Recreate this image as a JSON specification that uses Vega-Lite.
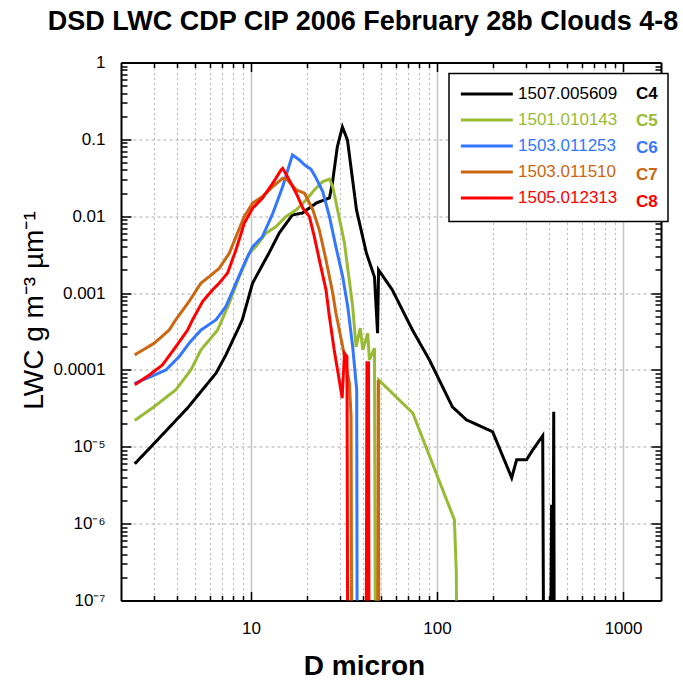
{
  "$schema": "https://vega.github.io/schema/vega-lite/v6.json",
  "width": 540,
  "height": 538,
  "autosize": "none",
  "padding": {"left": 121, "top": 62.5, "right": 22, "bottom": 81.5},
  "background": "white",
  "title": {"text": "DSD LWC CDP CIP 2006 February 28b Clouds 4-8", "font": "Liberation Sans", "fontSize": 27, "fontWeight": "bold", "color": "black", "anchor": "middle", "dx": -28, "offset": -3, "baseline": "alphabetic"},
  "config": {"view": {"stroke": null}, "font": "Liberation Sans"},
  "data": {"values": [
    {"id": "1507.005609", "c": "C4", "d": 2.37, "v": 6.0e-6},
    {"id": "1507.005609", "c": "C4", "d": 2.9, "v": 1.0e-5},
    {"id": "1507.005609", "c": "C4", "d": 4.56, "v": 3.2e-5},
    {"id": "1507.005609", "c": "C4", "d": 6.49, "v": 9.1e-5},
    {"id": "1507.005609", "c": "C4", "d": 7.33, "v": 1.57e-4},
    {"id": "1507.005609", "c": "C4", "d": 8.47, "v": 3.3e-4},
    {"id": "1507.005609", "c": "C4", "d": 8.98, "v": 4.5e-4},
    {"id": "1507.005609", "c": "C4", "d": 10.2, "v": 1.35e-3},
    {"id": "1507.005609", "c": "C4", "d": 12.5, "v": 3.33e-3},
    {"id": "1507.005609", "c": "C4", "d": 14.2, "v": 6.07e-3},
    {"id": "1507.005609", "c": "C4", "d": 16.7, "v": 0.0104},
    {"id": "1507.005609", "c": "C4", "d": 18.9, "v": 0.011},
    {"id": "1507.005609", "c": "C4", "d": 20.6, "v": 0.0128},
    {"id": "1507.005609", "c": "C4", "d": 22.5, "v": 0.0149},
    {"id": "1507.005609", "c": "C4", "d": 26.4, "v": 0.0173},
    {"id": "1507.005609", "c": "C4", "d": 27.4, "v": 0.0271},
    {"id": "1507.005609", "c": "C4", "d": 29.1, "v": 0.0797},
    {"id": "1507.005609", "c": "C4", "d": 31.0, "v": 0.145},
    {"id": "1507.005609", "c": "C4", "d": 33.0, "v": 0.098},
    {"id": "1507.005609", "c": "C4", "d": 36.9, "v": 0.0121},
    {"id": "1507.005609", "c": "C4", "d": 41.7, "v": 3.33e-3},
    {"id": "1507.005609", "c": "C4", "d": 46.1, "v": 1.62e-3},
    {"id": "1507.005609", "c": "C4", "d": 47.9, "v": 3.0e-4},
    {"id": "1507.005609", "c": "C4", "d": 48.5, "v": 2.0e-3},
    {"id": "1507.005609", "c": "C4", "d": 57.5, "v": 1.1e-3},
    {"id": "1507.005609", "c": "C4", "d": 73.8, "v": 3.3e-4},
    {"id": "1507.005609", "c": "C4", "d": 91, "v": 1.35e-4},
    {"id": "1507.005609", "c": "C4", "d": 121, "v": 3.3e-5},
    {"id": "1507.005609", "c": "C4", "d": 144, "v": 2.24e-5},
    {"id": "1507.005609", "c": "C4", "d": 199, "v": 1.57e-5},
    {"id": "1507.005609", "c": "C4", "d": 252, "v": 3.95e-6},
    {"id": "1507.005609", "c": "C4", "d": 268, "v": 6.8e-6},
    {"id": "1507.005609", "c": "C4", "d": 303, "v": 6.8e-6},
    {"id": "1507.005609", "c": "C4", "d": 327, "v": 9.1e-6},
    {"id": "1507.005609", "c": "C4", "d": 370, "v": 1.39e-5},
    {"id": "1507.005609", "c": "C4", "d": 376, "v": 1e-9},
    {"id": "1507.005609", "c": "C4", "d": 405, "v": 1e-9},
    {"id": "1507.005609", "c": "C4", "d": 413, "v": 1.76e-6},
    {"id": "1507.005609", "c": "C4", "d": 418, "v": 1e-9},
    {"id": "1507.005609", "c": "C4", "d": 424, "v": 2.85e-5},
    {"id": "1507.005609", "c": "C4", "d": 428, "v": 1e-9},
    {"id": "1501.010143", "c": "C5", "d": 2.37, "v": 2.2e-5},
    {"id": "1501.010143", "c": "C5", "d": 2.95, "v": 3.2e-5},
    {"id": "1501.010143", "c": "C5", "d": 3.94, "v": 5.5e-5},
    {"id": "1501.010143", "c": "C5", "d": 4.75, "v": 1.0e-4},
    {"id": "1501.010143", "c": "C5", "d": 5.38, "v": 1.82e-4},
    {"id": "1501.010143", "c": "C5", "d": 6.61, "v": 3.3e-4},
    {"id": "1501.010143", "c": "C5", "d": 7.64, "v": 7.4e-4},
    {"id": "1501.010143", "c": "C5", "d": 8.65, "v": 1.64e-3},
    {"id": "1501.010143", "c": "C5", "d": 9.79, "v": 3.3e-3},
    {"id": "1501.010143", "c": "C5", "d": 10.6, "v": 4.0e-3},
    {"id": "1501.010143", "c": "C5", "d": 12.0, "v": 6.0e-3},
    {"id": "1501.010143", "c": "C5", "d": 13.6, "v": 7.3e-3},
    {"id": "1501.010143", "c": "C5", "d": 15.4, "v": 9.9e-3},
    {"id": "1501.010143", "c": "C5", "d": 17.5, "v": 0.0121},
    {"id": "1501.010143", "c": "C5", "d": 19.8, "v": 0.0163},
    {"id": "1501.010143", "c": "C5", "d": 21.9, "v": 0.022},
    {"id": "1501.010143", "c": "C5", "d": 24.3, "v": 0.0282},
    {"id": "1501.010143", "c": "C5", "d": 26.4, "v": 0.0303},
    {"id": "1501.010143", "c": "C5", "d": 27.5, "v": 0.0243},
    {"id": "1501.010143", "c": "C5", "d": 29.2, "v": 0.0121},
    {"id": "1501.010143", "c": "C5", "d": 31.8, "v": 4.45e-3},
    {"id": "1501.010143", "c": "C5", "d": 35.2, "v": 6.7e-4},
    {"id": "1501.010143", "c": "C5", "d": 36.7, "v": 2.0e-4},
    {"id": "1501.010143", "c": "C5", "d": 38.7, "v": 3.5e-4},
    {"id": "1501.010143", "c": "C5", "d": 39.9, "v": 1.82e-4},
    {"id": "1501.010143", "c": "C5", "d": 42.4, "v": 3.0e-4},
    {"id": "1501.010143", "c": "C5", "d": 43.3, "v": 1.35e-4},
    {"id": "1501.010143", "c": "C5", "d": 46.1, "v": 1.92e-4},
    {"id": "1501.010143", "c": "C5", "d": 46.8, "v": 1e-9},
    {"id": "1501.010143", "c": "C5", "d": 48.1, "v": 1e-9},
    {"id": "1501.010143", "c": "C5", "d": 48.6, "v": 7.4e-5},
    {"id": "1501.010143", "c": "C5", "d": 74.1, "v": 2.74e-5},
    {"id": "1501.010143", "c": "C5", "d": 124, "v": 1.12e-6},
    {"id": "1501.010143", "c": "C5", "d": 127, "v": 2.28e-7},
    {"id": "1501.010143", "c": "C5", "d": 128.5, "v": 1e-9},
    {"id": "1503.011253", "c": "C6", "d": 2.37, "v": 6.7e-5},
    {"id": "1503.011253", "c": "C6", "d": 2.9, "v": 8.2e-5},
    {"id": "1503.011253", "c": "C6", "d": 3.49, "v": 1.0e-4},
    {"id": "1503.011253", "c": "C6", "d": 4.11, "v": 1.49e-4},
    {"id": "1503.011253", "c": "C6", "d": 4.65, "v": 2.23e-4},
    {"id": "1503.011253", "c": "C6", "d": 5.38, "v": 3.3e-4},
    {"id": "1503.011253", "c": "C6", "d": 6.49, "v": 4.5e-4},
    {"id": "1503.011253", "c": "C6", "d": 7.33, "v": 6.7e-4},
    {"id": "1503.011253", "c": "C6", "d": 8.3, "v": 1.35e-3},
    {"id": "1503.011253", "c": "C6", "d": 9.4, "v": 2.7e-3},
    {"id": "1503.011253", "c": "C6", "d": 10.2, "v": 4.0e-3},
    {"id": "1503.011253", "c": "C6", "d": 11.5, "v": 5.4e-3},
    {"id": "1503.011253", "c": "C6", "d": 13.1, "v": 0.0109},
    {"id": "1503.011253", "c": "C6", "d": 14.8, "v": 0.0243},
    {"id": "1503.011253", "c": "C6", "d": 16.7, "v": 0.0627},
    {"id": "1503.011253", "c": "C6", "d": 18.2, "v": 0.054},
    {"id": "1503.011253", "c": "C6", "d": 19.4, "v": 0.0465},
    {"id": "1503.011253", "c": "C6", "d": 21.0, "v": 0.0409},
    {"id": "1503.011253", "c": "C6", "d": 22.4, "v": 0.0312},
    {"id": "1503.011253", "c": "C6", "d": 24.3, "v": 0.0209},
    {"id": "1503.011253", "c": "C6", "d": 26.4, "v": 9.9e-3},
    {"id": "1503.011253", "c": "C6", "d": 28.6, "v": 4.0e-3},
    {"id": "1503.011253", "c": "C6", "d": 31.1, "v": 1.64e-3},
    {"id": "1503.011253", "c": "C6", "d": 33.1, "v": 6.7e-4},
    {"id": "1503.011253", "c": "C6", "d": 35.2, "v": 2.0e-4},
    {"id": "1503.011253", "c": "C6", "d": 37.0, "v": 5.5e-5},
    {"id": "1503.011253", "c": "C6", "d": 37.3, "v": 1e-9},
    {"id": "1503.011510", "c": "C7", "d": 2.37, "v": 1.57e-4},
    {"id": "1503.011510", "c": "C7", "d": 3.02, "v": 2.23e-4},
    {"id": "1503.011510", "c": "C7", "d": 3.63, "v": 3.3e-4},
    {"id": "1503.011510", "c": "C7", "d": 3.94, "v": 4.5e-4},
    {"id": "1503.011510", "c": "C7", "d": 4.65, "v": 7.8e-4},
    {"id": "1503.011510", "c": "C7", "d": 5.38, "v": 1.35e-3},
    {"id": "1503.011510", "c": "C7", "d": 5.97, "v": 1.64e-3},
    {"id": "1503.011510", "c": "C7", "d": 6.75, "v": 2.1e-3},
    {"id": "1503.011510", "c": "C7", "d": 7.64, "v": 3.3e-3},
    {"id": "1503.011510", "c": "C7", "d": 8.3, "v": 5.4e-3},
    {"id": "1503.011510", "c": "C7", "d": 9.2, "v": 9.9e-3},
    {"id": "1503.011510", "c": "C7", "d": 10.2, "v": 0.0148},
    {"id": "1503.011510", "c": "C7", "d": 11.5, "v": 0.018},
    {"id": "1503.011510", "c": "C7", "d": 13.1, "v": 0.0243},
    {"id": "1503.011510", "c": "C7", "d": 14.8, "v": 0.0312},
    {"id": "1503.011510", "c": "C7", "d": 15.7, "v": 0.0297},
    {"id": "1503.011510", "c": "C7", "d": 17.5, "v": 0.022},
    {"id": "1503.011510", "c": "C7", "d": 19.4, "v": 0.0199},
    {"id": "1503.011510", "c": "C7", "d": 21.5, "v": 0.0121},
    {"id": "1503.011510", "c": "C7", "d": 23.3, "v": 6.6e-3},
    {"id": "1503.011510", "c": "C7", "d": 25.3, "v": 2.7e-3},
    {"id": "1503.011510", "c": "C7", "d": 27.5, "v": 1.0e-3},
    {"id": "1503.011510", "c": "C7", "d": 28.6, "v": 5.5e-4},
    {"id": "1503.011510", "c": "C7", "d": 31.1, "v": 2.0e-4},
    {"id": "1503.011510", "c": "C7", "d": 33.8, "v": 6.7e-5},
    {"id": "1503.011510", "c": "C7", "d": 34.5, "v": 2.48e-5},
    {"id": "1503.011510", "c": "C7", "d": 34.9, "v": 1e-9},
    {"id": "1503.011510", "c": "C7", "d": 47.9, "v": 1e-9},
    {"id": "1503.011510", "c": "C7", "d": 48.3, "v": 7.4e-5},
    {"id": "1503.011510", "c": "C7", "d": 48.8, "v": 1e-9},
    {"id": "1505.012313", "c": "C8", "d": 2.37, "v": 6.4e-5},
    {"id": "1505.012313", "c": "C8", "d": 2.84, "v": 8.6e-5},
    {"id": "1505.012313", "c": "C8", "d": 3.34, "v": 1.16e-4},
    {"id": "1505.012313", "c": "C8", "d": 3.94, "v": 2.0e-4},
    {"id": "1505.012313", "c": "C8", "d": 4.56, "v": 3.3e-4},
    {"id": "1505.012313", "c": "C8", "d": 4.85, "v": 4.5e-4},
    {"id": "1505.012313", "c": "C8", "d": 5.5, "v": 7.8e-4},
    {"id": "1505.012313", "c": "C8", "d": 6.21, "v": 1.1e-3},
    {"id": "1505.012313", "c": "C8", "d": 6.75, "v": 1.35e-3},
    {"id": "1505.012313", "c": "C8", "d": 7.48, "v": 1.82e-3},
    {"id": "1505.012313", "c": "C8", "d": 8.3, "v": 3.65e-3},
    {"id": "1505.012313", "c": "C8", "d": 9.2, "v": 8.1e-3},
    {"id": "1505.012313", "c": "C8", "d": 10.2, "v": 0.0127},
    {"id": "1505.012313", "c": "C8", "d": 11.5, "v": 0.0171},
    {"id": "1505.012313", "c": "C8", "d": 13.1, "v": 0.0269},
    {"id": "1505.012313", "c": "C8", "d": 14.5, "v": 0.04},
    {"id": "1505.012313", "c": "C8", "d": 14.8, "v": 0.042},
    {"id": "1505.012313", "c": "C8", "d": 15.7, "v": 0.0327},
    {"id": "1505.012313", "c": "C8", "d": 17.5, "v": 0.0199},
    {"id": "1505.012313", "c": "C8", "d": 19.0, "v": 0.0127},
    {"id": "1505.012313", "c": "C8", "d": 20.6, "v": 9.9e-3},
    {"id": "1505.012313", "c": "C8", "d": 21.9, "v": 5.4e-3},
    {"id": "1505.012313", "c": "C8", "d": 23.3, "v": 2.7e-3},
    {"id": "1505.012313", "c": "C8", "d": 25.3, "v": 1.1e-3},
    {"id": "1505.012313", "c": "C8", "d": 26.4, "v": 4.9e-4},
    {"id": "1505.012313", "c": "C8", "d": 28.0, "v": 1.82e-4},
    {"id": "1505.012313", "c": "C8", "d": 29.8, "v": 7.4e-5},
    {"id": "1505.012313", "c": "C8", "d": 30.9, "v": 4.3e-5},
    {"id": "1505.012313", "c": "C8", "d": 31.8, "v": 1.65e-4},
    {"id": "1505.012313", "c": "C8", "d": 32.8, "v": 1.49e-4},
    {"id": "1505.012313", "c": "C8", "d": 33.2, "v": 1e-9},
    {"id": "1505.012313", "c": "C8", "d": 41.5, "v": 1e-9},
    {"id": "1505.012313", "c": "C8", "d": 42.0, "v": 1.24e-4},
    {"id": "1505.012313", "c": "C8", "d": 42.8, "v": 1.24e-4},
    {"id": "1505.012313", "c": "C8", "d": 43.2, "v": 1e-9}
  ]},
  "layer": [
    {
      "mark": {"type": "line", "strokeWidth": 3, "clip": true},
      "encoding": {
        "x": {
          "field": "d", "type": "quantitative",
          "scale": {"type": "log", "domain": [2, 1600], "nice": false},
          "axis": {
            "orient": "bottom",
            "values": [3,4,5,6,7,8,9,10,20,30,40,50,60,70,80,90,100,200,300,400,500,600,700,800,900,1000],
            "labelExpr": "(datum.value == 10 || datum.value == 100 || datum.value == 1000) ? ('' + datum.value) : ''",
            "labelFont": "Liberation Sans", "labelFontSize": 17, "labelColor": "black",
            "labelPadding": 29, "labelOverlap": false, "labelFlush": false, "labelBound": false,
            "grid": true,
            "gridColor": {"condition": {"test": "datum.value == 10 || datum.value == 100 || datum.value == 1000", "value": "#c4c4c4"}, "value": "#b8b8b8"},
            "gridDash": {"condition": {"test": "datum.value == 10 || datum.value == 100 || datum.value == 1000", "value": []}, "value": [2, 3]},
            "gridWidth": {"condition": {"test": "datum.value == 10 || datum.value == 100 || datum.value == 1000", "value": 1.5}, "value": 1},
            "tickSize": {"condition": {"test": "datum.value == 10 || datum.value == 100 || datum.value == 1000", "value": -9}, "value": -5},
            "tickColor": "black", "tickWidth": 1.5,
            "domainColor": "black", "domainWidth": 2,
            "title": "D micron", "titleFont": "Liberation Sans", "titleFontSize": 28, "titleFontWeight": "bold", "titleColor": "black",
            "titleX": 243, "titleY": 74, "titleBaseline": "alphabetic", "titleAlign": "center"
          }
        },
        "y": {
          "field": "v", "type": "quantitative",
          "scale": {"type": "log", "domain": [1e-7, 1], "nice": false},
          "axis": {
            "orient": "left",
            "values": [1e-7,2e-7,3e-7,4e-7,5e-7,6e-7,7e-7,8e-7,9e-7,1e-6,2e-6,3e-6,4e-6,5e-6,6e-6,7e-6,8e-6,9e-6,1e-5,2e-5,3e-5,4e-5,5e-5,6e-5,7e-5,8e-5,9e-5,1e-4,2e-4,3e-4,4e-4,5e-4,6e-4,7e-4,8e-4,9e-4,0.001,0.002,0.003,0.004,0.005,0.006,0.007,0.008,0.009,0.01,0.02,0.03,0.04,0.05,0.06,0.07,0.08,0.09,0.1,0.2,0.3,0.4,0.5,0.6,0.7,0.8,0.9,1],
            "labelExpr": "abs(log(datum.value)/LN10 - round(log(datum.value)/LN10)) > 0.01 ? '' : round(log(datum.value)/LN10) == 0 ? '1' : round(log(datum.value)/LN10) == -1 ? '0.1' : round(log(datum.value)/LN10) == -2 ? '0.01' : round(log(datum.value)/LN10) == -3 ? '0.001' : round(log(datum.value)/LN10) == -4 ? '0.0001' : round(log(datum.value)/LN10) == -5 ? '10⁻⁵' : round(log(datum.value)/LN10) == -6 ? '10⁻⁶' : '10⁻⁷'",
            "labelFont": "Liberation Sans", "labelFontSize": 17, "labelColor": "black",
            "labelPadding": 26, "labelOverlap": false, "labelFlush": false, "labelBound": false,
            "grid": true, "gridColor": "#aaaaaa", "gridDash": [3, 3], "gridWidth": 1,
            "gridOpacity": {"condition": {"test": "abs(log(datum.value)/LN10 - round(log(datum.value)/LN10)) < 0.01", "value": 1}, "value": 0},
            "tickSize": {"condition": {"test": "abs(log(datum.value)/LN10 - round(log(datum.value)/LN10)) < 0.01", "value": -10}, "value": -6},
            "tickColor": "black", "tickWidth": 1.5,
            "domainColor": "black", "domainWidth": 2,
            "title": "LWC  g m⁻³ µm⁻¹", "titleFont": "Liberation Sans", "titleFontSize": 28, "titleFontWeight": "normal", "titleColor": "black",
            "titleX": -79, "titleY": 247.5, "titleBaseline": "alphabetic", "titleAlign": "center", "titleAngle": 270
          }
        },
        "color": {
          "field": "c", "type": "nominal",
          "scale": {"domain": ["C4", "C5", "C6", "C7", "C8"], "range": ["#000000", "#99bb33", "#3377ff", "#cc6611", "#ff0000"]},
          "legend": {
            "title": null, "orient": "none", "legendX": 328, "legendY": 11,
            "symbolType": "circle", "symbolSize": 300, "symbolOpacity": 0, "symbolStrokeWidth": 3,
            "labelFont": "Liberation Sans", "labelFontSize": 17, "labelFontWeight": "bold", "labelOffset": 156,
            "padding": 10, "rowPadding": 7,
            "strokeColor": "black", "fillColor": "white",
            "encode": {
              "labels": {"update": {"fill": {"scale": "color", "field": "value"}}},
              "legend": {"update": {"strokeWidth": {"value": 1.5}}}
            }
          }
        },
        "strokeDash": {
          "field": "id", "type": "nominal",
          "scale": {"domain": ["1507.005609", "1501.010143", "1503.011253", "1503.011510", "1505.012313"], "range": [[1, 0], [1, 0], [1, 0], [1, 0], [1, 0]]},
          "legend": {
            "title": null, "orient": "none", "legendX": 328, "legendY": 11,
            "symbolType": "M-1,0H5", "symbolSize": 300, "symbolStrokeWidth": 3, "symbolOpacity": 1, "symbolFillColor": "transparent",
            "labelFont": "Liberation Sans", "labelFontSize": 17, "labelOffset": 38,
            "padding": 10, "rowPadding": 7,
            "encode": {
              "symbols": {"update": {"stroke": {"signal": "datum.value == '1507.005609' ? '#000000' : datum.value == '1501.010143' ? '#99bb33' : datum.value == '1503.011253' ? '#3377ff' : datum.value == '1503.011510' ? '#cc6611' : '#ff0000'"}}},
              "labels": {"update": {"fill": {"signal": "datum.value == '1507.005609' ? '#000000' : datum.value == '1501.010143' ? '#99bb33' : datum.value == '1503.011253' ? '#3377ff' : datum.value == '1503.011510' ? '#cc6611' : '#ff0000'"}}}
            }
          }
        }
      }
    },
    {
      "mark": {"type": "line", "opacity": 0, "clip": true},
      "encoding": {
        "x": {
          "field": "d", "type": "quantitative",
          "axis": {
            "orient": "top", "labels": false, "grid": false, "title": null,
            "values": [3,4,5,6,7,8,9,10,20,30,40,50,60,70,80,90,100,200,300,400,500,600,700,800,900,1000],
            "tickSize": {"condition": {"test": "datum.value == 10 || datum.value == 100 || datum.value == 1000", "value": -9}, "value": -5},
            "tickColor": "black", "tickWidth": 1.5, "domainColor": "black", "domainWidth": 2
          }
        },
        "y": {
          "field": "v", "type": "quantitative",
          "axis": {
            "orient": "right", "labels": false, "grid": false, "title": null,
            "values": [1e-7,2e-7,3e-7,4e-7,5e-7,6e-7,7e-7,8e-7,9e-7,1e-6,2e-6,3e-6,4e-6,5e-6,6e-6,7e-6,8e-6,9e-6,1e-5,2e-5,3e-5,4e-5,5e-5,6e-5,7e-5,8e-5,9e-5,1e-4,2e-4,3e-4,4e-4,5e-4,6e-4,7e-4,8e-4,9e-4,0.001,0.002,0.003,0.004,0.005,0.006,0.007,0.008,0.009,0.01,0.02,0.03,0.04,0.05,0.06,0.07,0.08,0.09,0.1,0.2,0.3,0.4,0.5,0.6,0.7,0.8,0.9,1],
            "tickSize": {"condition": {"test": "abs(log(datum.value)/LN10 - round(log(datum.value)/LN10)) < 0.01", "value": -10}, "value": -6},
            "tickColor": "black", "tickWidth": 1.5, "domainColor": "black", "domainWidth": 2
          }
        },
        "detail": {"field": "c", "type": "nominal"}
      }
    }
  ],
  "resolve": {"axis": {"x": "independent", "y": "independent"}}
}
